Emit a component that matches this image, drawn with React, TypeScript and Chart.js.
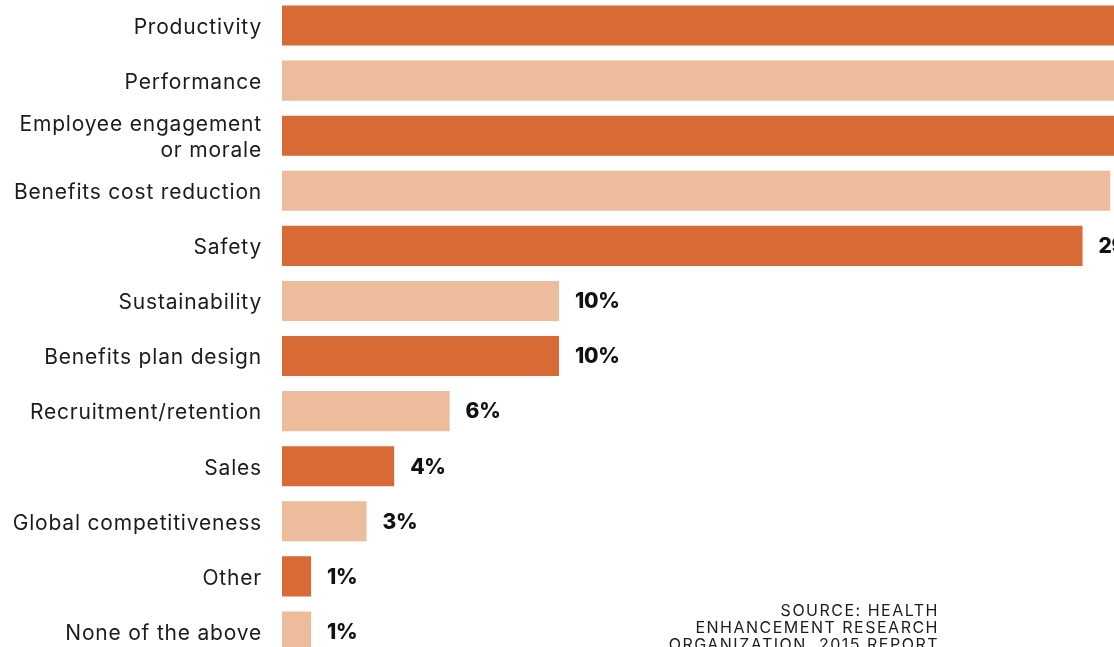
import React, { useEffect, useRef } from "react";
import { Chart, registerables } from "chart.js";

Chart.register(...registerables);

const categories: (string | string[])[] = [
  "Productivity",
  "Performance",
  ["Employee engagement", "or morale"],
  "Benefits cost reduction",
  "Safety",
  "Sustainability",
  "Benefits plan design",
  "Recruitment/retention",
  "Sales",
  "Global competitiveness",
  "Other",
  "None of the above",
];

// percent of respondents (top three bars run past the visible frame; estimated)
const values: number[] = [44, 41, 37, 29.9, 28.9, 10, 10, 6.05, 4.05, 3.05, 1.05, 1.05];
const valueLabels: string[] = ["44%", "41%", "37%", "30%", "29%", "10%", "10%", "6%", "4%", "3%", "1%", "1%"];

const DARK = "#D86A35";
const LIGHT = "#ECBC9D";

const sourceLines: string[] = [
  "SOURCE: HEALTH",
  "ENHANCEMENT RESEARCH",
  "ORGANIZATION, 2015 REPORT",
];

const spacingPlugin = {
  id: "letterSpacing",
  beforeDraw(chart: any) {
    chart.ctx.letterSpacing = "0.8px";
  },
};

const valueLabelPlugin = {
  id: "valueLabels",
  afterDatasetsDraw(chart: any) {
    const ctx = chart.ctx;
    const meta = chart.getDatasetMeta(0);
    ctx.save();
    ctx.letterSpacing = "-0.3px";
    ctx.font = "800 21px Inter, Roboto, sans-serif";
    ctx.fillStyle = "#111111";
    ctx.textAlign = "left";
    ctx.textBaseline = "middle";
    meta.data.forEach((bar: any, i: number) => {
      ctx.fillText(valueLabels[i], bar.x + 16, bar.y + 1);
    });
    ctx.restore();
  },
};

export default function App() {
  const canvasRef = useRef<HTMLCanvasElement>(null);

  useEffect(() => {
    document.body.style.overflow = "hidden";
    const canvas = canvasRef.current;
    if (!canvas) return;
    const chart = new Chart(canvas, {
      type: "bar",
      data: {
        labels: categories,
        datasets: [
          {
            data: values,
            backgroundColor: values.map((_, i) => (i % 2 === 0 ? DARK : LIGHT)),
            borderWidth: 0,
            categoryPercentage: 1,
            barPercentage: 40 / 55,
          },
        ],
      },
      options: {
        indexAxis: "y",
        animation: false,
        responsive: false,
        devicePixelRatio: 1,
        layout: { padding: 0 },
        plugins: {
          legend: { display: false },
          tooltip: { enabled: false },
        },
        scales: {
          x: {
            display: false,
            min: 0,
            max: 40,
          },
          y: {
            grid: { display: false, drawTicks: false },
            border: { display: false },
            afterFit: (scale: any) => {
              scale.width = 282;
              scale.paddingTop = 0;
              scale.paddingBottom = 0;
            },
            ticks: {
              padding: 20,
              labelOffset: 2,
              color: "#1c1c1c",
              font: {
                family: "Inter, Roboto, sans-serif",
                size: 21,
                weight: "400",
                lineHeight: 26 / 21,
              },
            },
          },
        },
      },
      plugins: [spacingPlugin, valueLabelPlugin],
    });
    return () => chart.destroy();
  }, []);

  return (
    <div
      style={{
        position: "fixed",
        left: 0,
        top: 0,
        width: 1114,
        height: 647,
        overflow: "hidden",
        background: "#ffffff",
      }}
    >
      <canvas
        ref={canvasRef}
        width={1390}
        height={661}
        style={{ position: "absolute", left: 0, top: -2 }}
      />
      <div
        style={{
          position: "absolute",
          right: 1114 - 939,
          top: 602,
          textAlign: "right",
          fontFamily: "Inter, Roboto, sans-serif",
          fontSize: 16,
          lineHeight: "17px",
          letterSpacing: "1.5px",
          color: "#1c1c1c",
          whiteSpace: "nowrap",
        }}
      >
        {sourceLines.map((l, i) => (
          <div key={i}>{l}</div>
        ))}
      </div>
    </div>
  );
}
